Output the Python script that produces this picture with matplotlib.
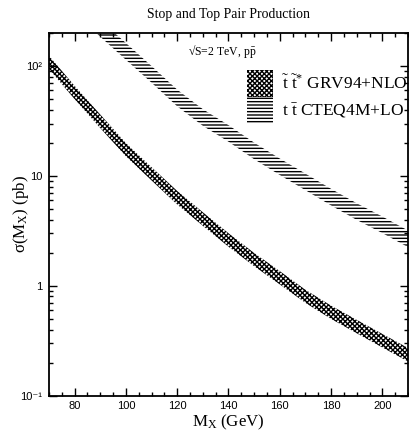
import matplotlib
matplotlib.use("Agg")
import matplotlib.pyplot as plt
from matplotlib.ticker import MultipleLocator, FixedLocator, FuncFormatter, LogLocator, NullFormatter

plt.rcParams['mathtext.fontset'] = 'custom'
plt.rcParams['mathtext.rm'] = 'Liberation Serif'
plt.rcParams['mathtext.it'] = 'Liberation Serif:italic'
plt.rcParams['mathtext.bf'] = 'Liberation Serif:bold'

# ---- data ----
mass_stop = [70, 80, 90, 100, 110, 120, 130, 140, 150, 160, 170, 180, 190, 200, 210]
stop_hi = [124, 66, 36.2, 19.9, 12.0, 7.3, 4.67, 3.01, 1.99, 1.36, 0.92, 0.66, 0.49, 0.365, 0.272]
stop_lo = [94, 50, 27.3, 15.1, 9.1, 5.5, 3.52, 2.27, 1.51, 1.03, 0.70, 0.50, 0.37, 0.275, 0.205]

mass_top = [85, 90, 100, 110, 120, 130, 140, 150, 160, 170, 180, 190, 200, 210]
top_hi = [336, 262, 162, 100, 61, 40.5, 29.0, 20.1, 14.4, 10.5, 7.63, 5.64, 4.27, 3.19]
top_lo = [237, 185, 114, 70.6, 43.0, 28.6, 20.5, 14.2, 10.2, 7.42, 5.39, 3.98, 3.02, 2.25]

label_stop = r'$\tilde{\mathrm{t}}\ \tilde{\mathrm{t}}^{*}$ GRV94+NLO'
label_top = r'$\mathrm{t}\ \bar{\mathrm{t}}$ CTEQ4M+LO'
title = 'Stop and Top Pair Production'
xlabel = r'M$_{\mathrm{X}}$ (GeV)'
ylabel = r'σ(M$_{\mathrm{X}}$) (pb)'
note = r'√S=2 TeV, p$\bar{\mathrm{p}}$'
x_major = [80, 100, 120, 140, 160, 180, 200]
y_labels = {0.1: '10⁻¹', 1: '1', 10: '10', 100: '10²'}

serif = ['Liberation Serif', 'DejaVu Serif']
sans = ['Liberation Sans', 'DejaVu Sans']

fig = plt.figure(figsize=(4.09, 4.32), dpi=100)
ax = fig.add_axes([49/409, 1-395.7/432, 359/409, (395.7-33)/432])

plt.rcParams['hatch.linewidth'] = 1.0
stop_band = ax.fill_between(mass_stop, stop_lo, stop_hi, facecolor='white', edgecolor='black',
                            hatch='xxxxxxx', linewidth=0, label=label_stop)
plt.rcParams['hatch.linewidth'] = 1.0
top_band = ax.fill_between(mass_top, top_lo, top_hi, facecolor='none', edgecolor='black',
                           hatch='-----', linewidth=0, label=label_top)

ax.set_yscale('log')
ax.set_xlim(70, 210)
ax.set_ylim(0.1, 200)

ax.xaxis.set_major_locator(FixedLocator(x_major))
ax.xaxis.set_minor_locator(MultipleLocator(5))
ax.yaxis.set_major_locator(FixedLocator(list(y_labels.keys())))
ax.yaxis.set_major_formatter(FuncFormatter(lambda v, p: y_labels.get(round(v, 3), '')))
ax.yaxis.set_minor_locator(LogLocator(base=10, subs=range(2, 10)))
ax.yaxis.set_minor_formatter(NullFormatter())

ax.tick_params(which='both', direction='in', top=True, right=True, width=1.0, color='black')
ax.tick_params(which='major', length=6, labelsize=8, pad=4)
ax.tick_params(axis='y', which='major', pad=5)
ax.tick_params(which='minor', length=3)
for lab in ax.get_xticklabels() + ax.get_yticklabels():
    lab.set_family(sans)
for s in ax.spines.values():
    s.set_linewidth(1.3)

ax.set_title(title, family=serif, fontsize=9.9, pad=11)
ax.set_xlabel(xlabel, family=serif, fontsize=12.2)
ax.set_ylabel(ylabel, family=serif, fontsize=12.2)
ax.xaxis.set_label_coords(0.5, -0.0725)
ax.xaxis.label.set_va('center')
ax.yaxis.set_label_coords(-0.078, 0.501)
ax.yaxis.label.set_va('center')
ax.text(0.387, 0.948, note, transform=ax.transAxes, family=serif, fontsize=8.5,
        ha='left', va='center')

leg = ax.legend(loc='upper left', bbox_to_anchor=(0.5515, 0.898), frameon=False,
                borderpad=0, labelspacing=0.0, handlelength=1.5, handleheight=2.0,
                handletextpad=0.5, borderaxespad=0, prop={'family': serif, 'size': 12.5})

fig.savefig('out.png', dpi=100)
